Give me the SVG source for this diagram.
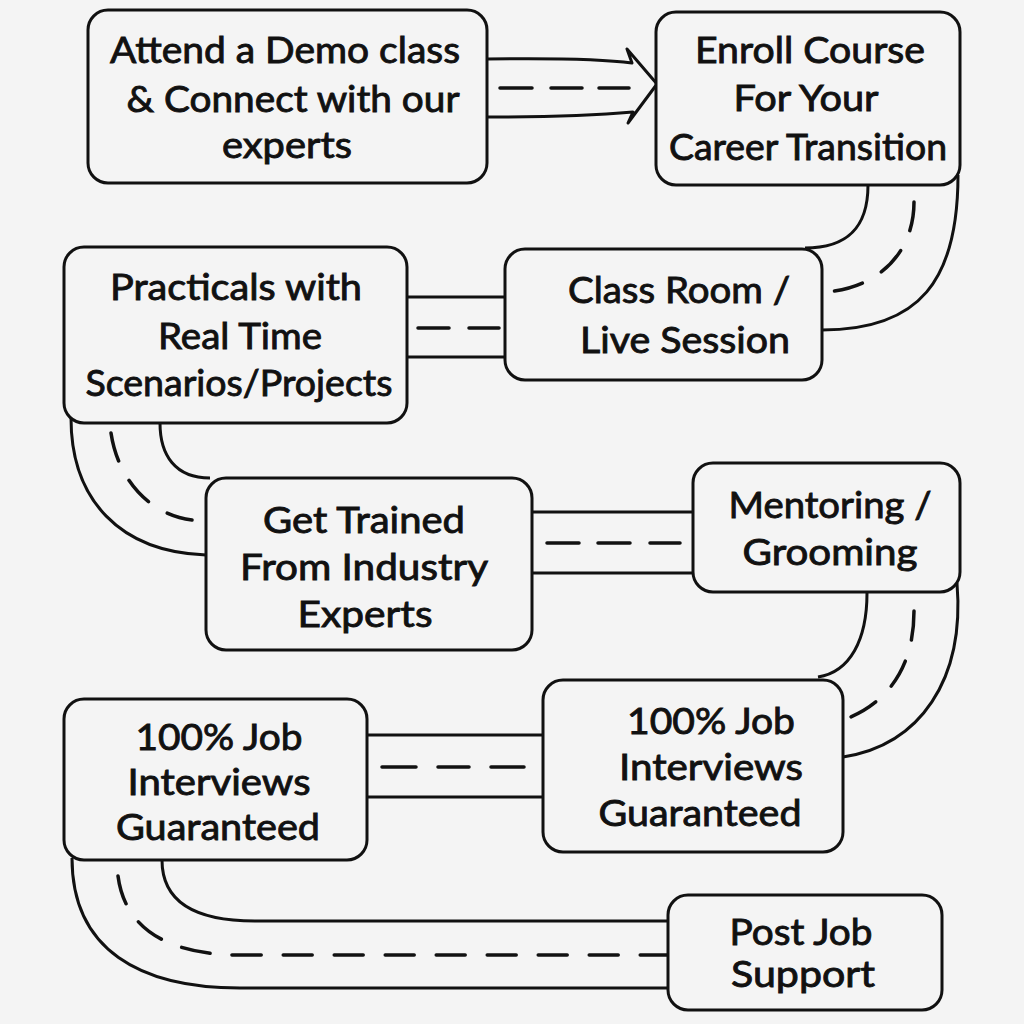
<svg xmlns="http://www.w3.org/2000/svg" width="1024" height="1024" viewBox="0 0 1024 1024">
<style>
.bg{fill:#f4f4f4}
.box{fill:#f4f4f4;stroke:#111;stroke-width:3}
.ln{fill:none;stroke:#111;stroke-width:3;stroke-linejoin:round}
.ds{fill:none;stroke:#111;stroke-width:3.5;stroke-linecap:round;stroke-dasharray:29 22}
.t{font-family:Lato,"Open Sans","Liberation Sans",sans-serif;font-size:37px;fill:#111;stroke:#111;stroke-width:0.9;text-anchor:middle}
</style>
<rect class="bg" x="0" y="0" width="1024" height="1024"/>
<g id="connectors">
  <!-- 1 to 2 arrow -->
  <path class="ln" d="M487 59 C560 58 610 60 632 63 L627 49 L657 84 L628 123 L633 112 C610 114 560 117 487 117"/>
  <path class="ds" style="stroke-dasharray:none" d="M500 88 H532 M551 88 H582 M599 88 H629"/>
  <!-- 2 to 3 -->
  <path class="ln" d="M958 175 C958 280 920 330 822 330"/>
  <path class="ln" d="M868 185 C868 230 845 248 805 248"/>
  <path class="ds" d="M914 202 C914 255 875 290 823 292"/>
  <!-- 4 to 3 -->
  <path class="ln" d="M407 297 H505 M407 357 H505"/>
  <path class="ds" style="stroke-dasharray:none" d="M418 328 H449 M469 328 H499"/>
  <!-- 4 to 5 -->
  <path class="ln" d="M71 418 C71 500 120 552 206 555"/>
  <path class="ln" d="M160 423 C160 455 175 478 210 478"/>
  <path class="ds" d="M111 433 C118 480 150 515 192 520"/>
  <!-- 5 to 6 -->
  <path class="ln" d="M532 512 H693 M532 573 H693"/>
  <path class="ds" style="stroke-dasharray:none" d="M547 543 H579 M598 543 H630 M650 543 H680"/>
  <!-- 6 to 7 -->
  <path class="ln" d="M957 583 C965 680 920 745 843 757"/>
  <path class="ln" d="M867 593 C867 640 850 672 818 677"/>
  <path class="ds" d="M914 611 C914 670 885 705 843 720"/>
  <!-- 8 to 7 -->
  <path class="ln" d="M367 735 H543 M367 797 H543"/>
  <path class="ds" style="stroke-dasharray:none" d="M382 767 H416 M438 767 H469 M491 767 H524"/>
  <!-- 8 to 9 -->
  <path class="ln" d="M72 858 C72 950 140 988 240 988 H668"/>
  <path class="ln" d="M162 860 C162 905 200 921 255 921 H668"/>
  <path class="ds" d="M118 876 C125 930 170 955 240 955 H668"/>
</g>
<g id="n1">
  <rect class="box" x="88" y="10" width="399" height="173" rx="20"/>
  <text class="t" x="285" y="63" textLength="350" lengthAdjust="spacingAndGlyphs">Attend a Demo class</text>
  <text class="t" x="293" y="112" textLength="333" lengthAdjust="spacingAndGlyphs">&amp; Connect with our</text>
  <text class="t" x="287" y="158" textLength="130" lengthAdjust="spacingAndGlyphs">experts</text>
</g>
<g id="n2">
  <rect class="box" x="656" y="12" width="304" height="173" rx="20"/>
  <text class="t" x="810" y="63" textLength="230" lengthAdjust="spacingAndGlyphs">Enroll Course</text>
  <text class="t" x="806" y="111" textLength="145" lengthAdjust="spacingAndGlyphs">For Your</text>
  <text class="t" x="808" y="160" textLength="278" lengthAdjust="spacingAndGlyphs">Career Transition</text>
</g>
<g id="n3">
  <rect class="box" x="505" y="249" width="317" height="131" rx="20"/>
  <text class="t" x="679" y="303" textLength="222" lengthAdjust="spacingAndGlyphs">Class Room /</text>
  <text class="t" x="685" y="353" textLength="210" lengthAdjust="spacingAndGlyphs">Live Session</text>
</g>
<g id="n4">
  <rect class="box" x="64" y="247" width="343" height="176" rx="20"/>
  <text class="t" x="236" y="300" textLength="252" lengthAdjust="spacingAndGlyphs">Practicals with</text>
  <text class="t" x="240" y="349" textLength="164" lengthAdjust="spacingAndGlyphs">Real Time</text>
  <text class="t" x="239" y="396" textLength="307" lengthAdjust="spacingAndGlyphs">Scenarios/Projects</text>
</g>
<g id="n5">
  <rect class="box" x="206" y="478" width="326" height="172" rx="20"/>
  <text class="t" x="364" y="533" textLength="202" lengthAdjust="spacingAndGlyphs">Get Trained</text>
  <text class="t" x="364" y="580" textLength="248" lengthAdjust="spacingAndGlyphs">From Industry</text>
  <text class="t" x="365" y="627" textLength="135" lengthAdjust="spacingAndGlyphs">Experts</text>
</g>
<g id="n6">
  <rect class="box" x="693" y="463" width="267" height="129" rx="20"/>
  <text class="t" x="830" y="518" textLength="203" lengthAdjust="spacingAndGlyphs">Mentoring /</text>
  <text class="t" x="830" y="565" textLength="175" lengthAdjust="spacingAndGlyphs">Grooming</text>
</g>
<g id="n7">
  <rect class="box" x="543" y="680" width="300" height="172" rx="20"/>
  <text class="t" x="711" y="734" textLength="168" lengthAdjust="spacingAndGlyphs">100% Job</text>
  <text class="t" x="711" y="780" textLength="184" lengthAdjust="spacingAndGlyphs">Interviews</text>
  <text class="t" x="700" y="826" textLength="203" lengthAdjust="spacingAndGlyphs">Guaranteed</text>
</g>
<g id="n8">
  <rect class="box" x="64" y="699" width="303" height="161" rx="20"/>
  <text class="t" x="219" y="750" textLength="167" lengthAdjust="spacingAndGlyphs">100% Job</text>
  <text class="t" x="219" y="795" textLength="183" lengthAdjust="spacingAndGlyphs">Interviews</text>
  <text class="t" x="218" y="840" textLength="204" lengthAdjust="spacingAndGlyphs">Guaranteed</text>
</g>
<g id="n9">
  <rect class="box" x="668" y="895" width="274" height="115" rx="20"/>
  <text class="t" x="801" y="945" textLength="143" lengthAdjust="spacingAndGlyphs">Post Job</text>
  <text class="t" x="803" y="987" textLength="144" lengthAdjust="spacingAndGlyphs">Support</text>
</g>
</svg>
